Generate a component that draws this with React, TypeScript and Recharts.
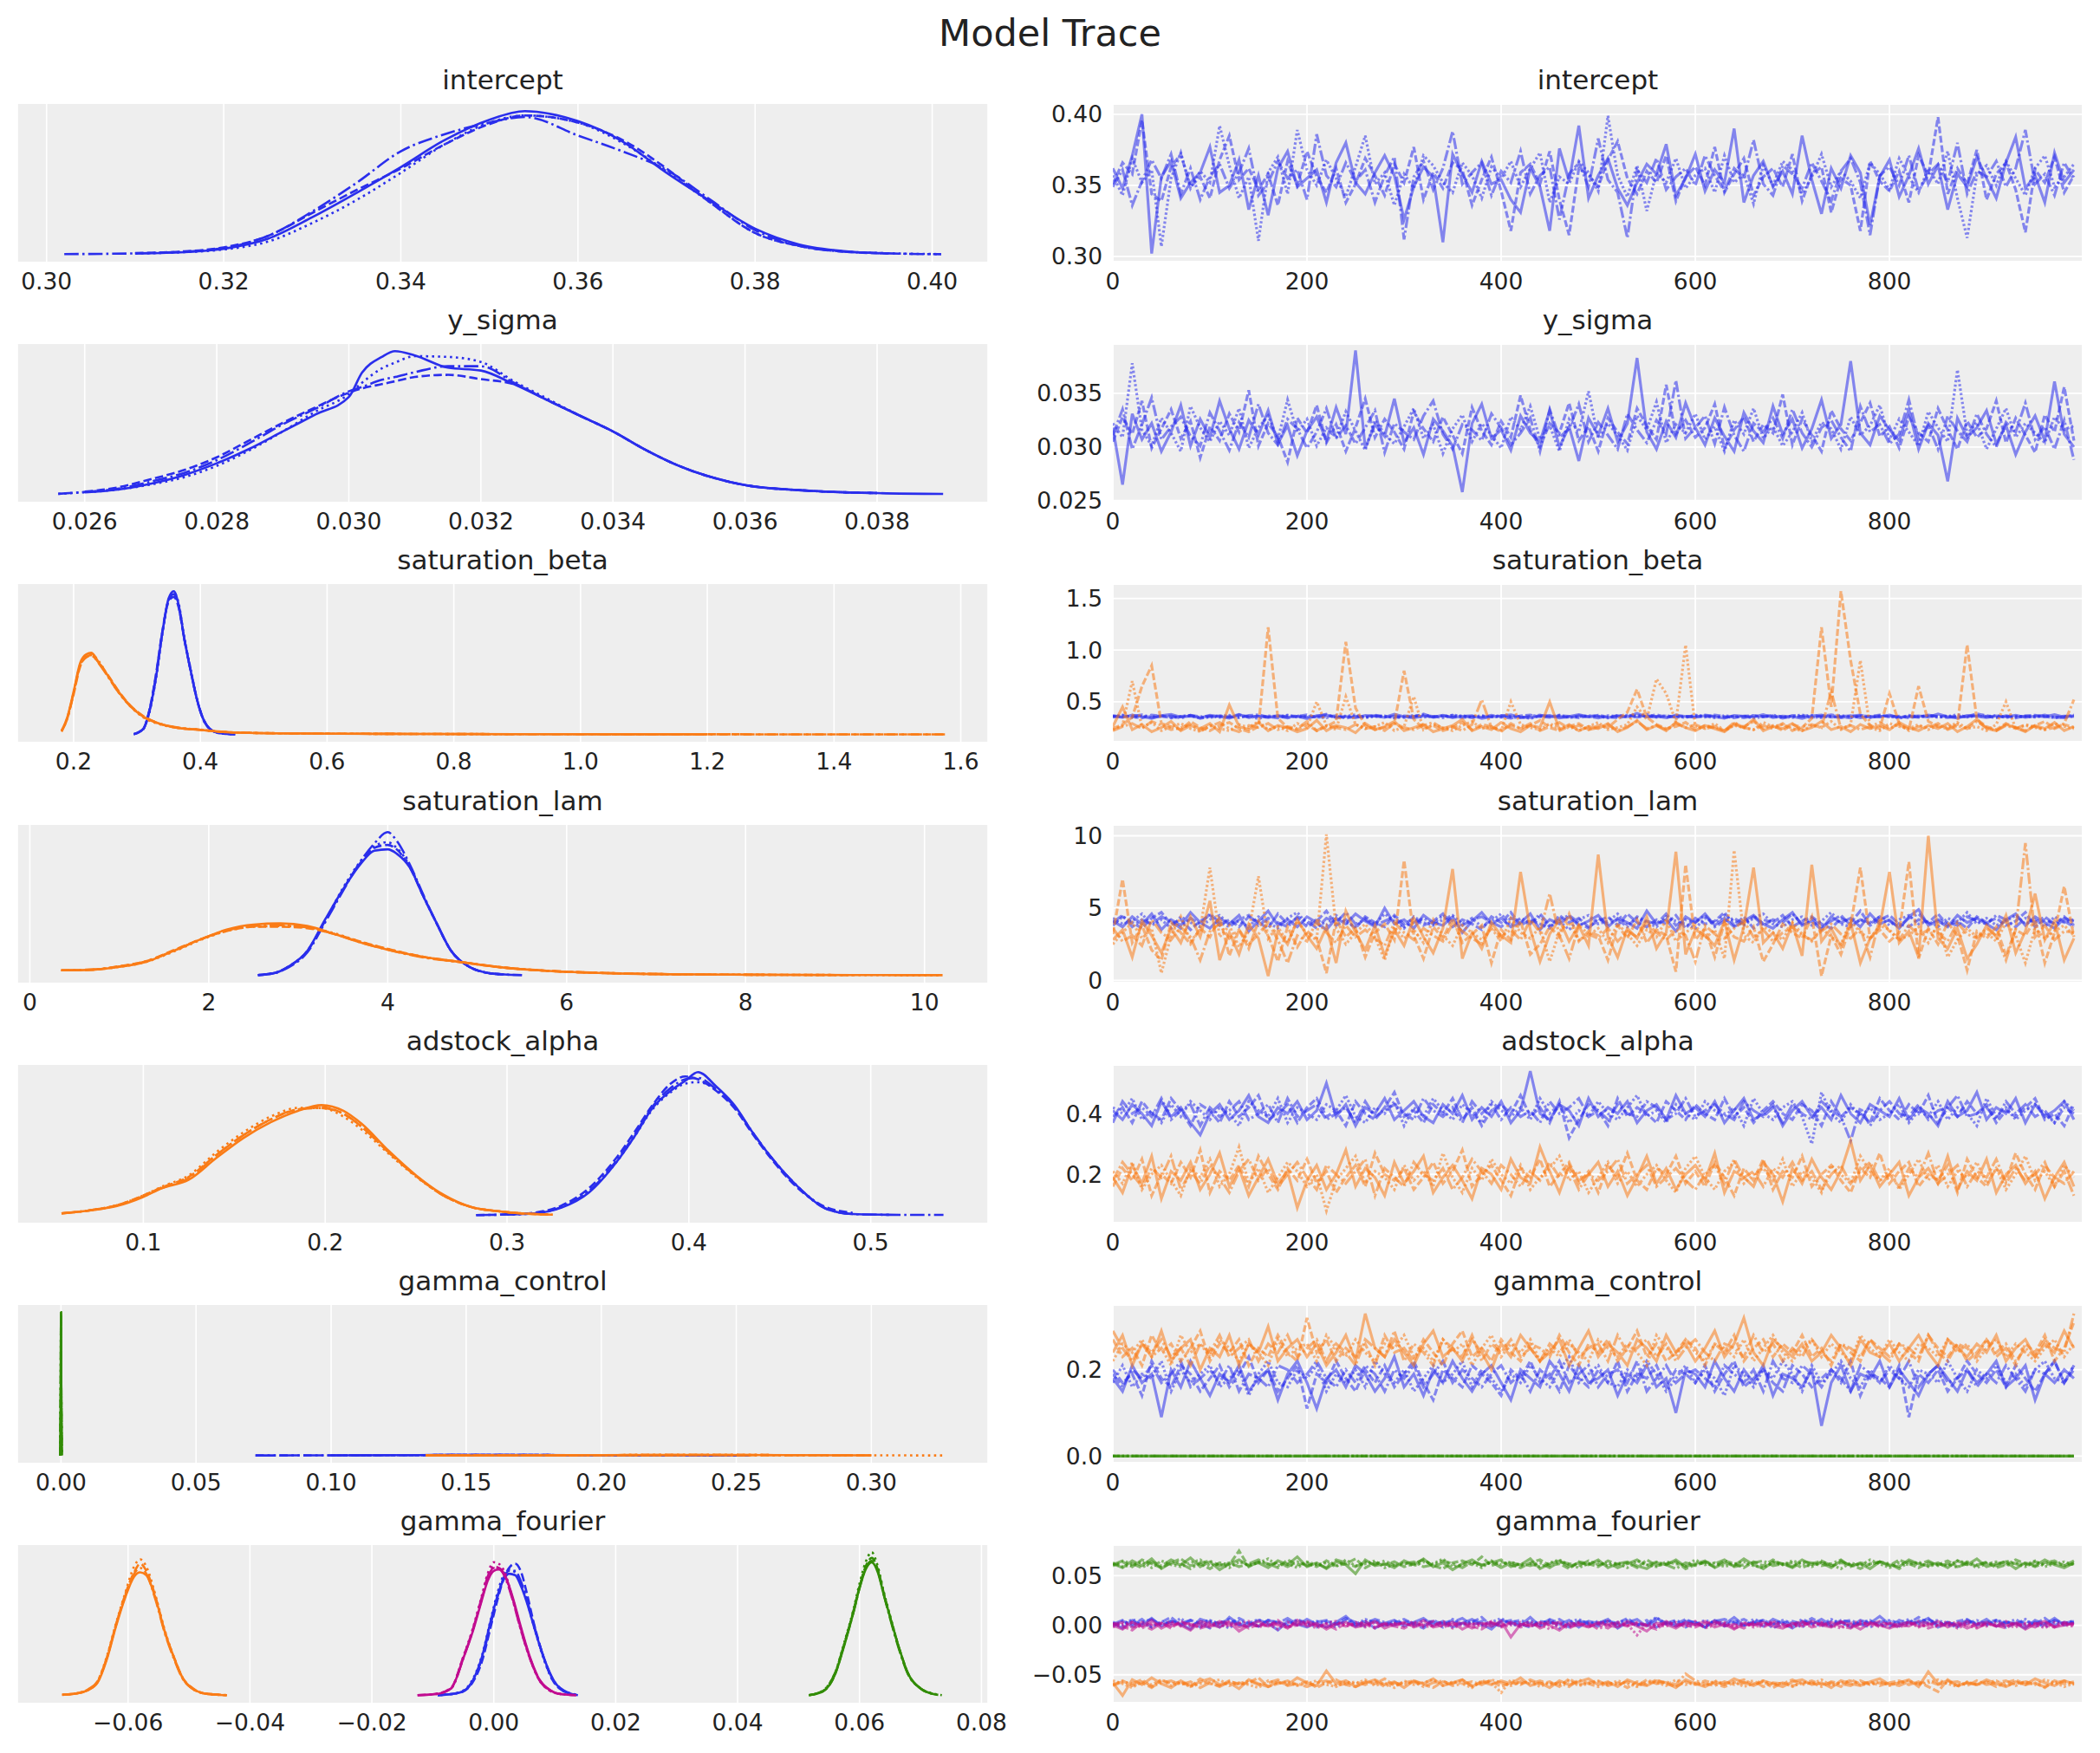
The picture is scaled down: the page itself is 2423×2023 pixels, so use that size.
import React from 'react';
import { LineChart, Line, XAxis, YAxis, CartesianGrid } from 'recharts';

const FONT = '"DejaVu Sans", "Liberation Sans", sans-serif';
const TEXT = '#222222';
const PANEL_BG = '#eeeeee';
const BLUE = '#2a2eec';
const ORANGE = '#fa7c17';
const GREEN = '#328c06';
const MAGENTA = '#c10c90';

const DRAW_STEP = 10; // every 10th draw of 1000
const TRACE_DRAWS = 100;

// ---------------- KDE (left column): x grid + relative density per chain (100 = panel max) -------------
const interceptKdeX = [0.302, 0.31, 0.315, 0.32, 0.325, 0.33, 0.335, 0.34, 0.345, 0.35, 0.354, 0.36, 0.365, 0.37, 0.375, 0.38, 0.385, 0.39, 0.395, 0.401];
const interceptKde = [
  [null, 0.8, 1.5, 4, 11, 26, 43, 61, 80, 94, 100, 93, 79, 57, 37, 18, 7, 2.4, 0.8, null],
  [null, 1.0, 2, 5, 13, 29, 45, 60, 77, 91, 97, 92, 80, 60, 36, 15, 6, 2, 0.8, null],
  [null, 0.8, 1.5, 3.5, 9, 22, 38, 57, 77, 92, 97, 92, 78, 58, 36, 15, 6, 2.2, 0.9, 0.3],
  [0.3, 0.8, 1.8, 4.5, 13, 30, 50, 72, 84, 92, 96, 83, 72, 59, 38, 17, 6, 2, 0.8, 0.2],
];
const ySigmaKdeX = [0.0256, 0.026, 0.0265, 0.027, 0.0275, 0.028, 0.0285, 0.029, 0.0295, 0.030, 0.0302, 0.0305, 0.0307, 0.031, 0.0315, 0.032, 0.0325, 0.033, 0.0335, 0.034, 0.0345, 0.035, 0.0355, 0.036, 0.037, 0.038, 0.039];
const ySigmaKde = [
  [null, 1.5, 3.5, 7.6, 13.5, 21.8, 32, 44, 56, 68, 85, 96, 100, 97, 88.5, 86.5, 77, 66, 55, 44, 31, 20, 12, 6.6, 2.6, 1, 0.4],
  [null, 2, 5, 10.7, 17, 26, 38, 50, 61, 71, 74, 77, 79, 82, 83.5, 80.5, 77, 66, 55, 44, 31, 20, 12, 6.6, 2.6, 1, null],
  [0.5, 1.6, 3.5, 7, 12, 20, 31, 44, 58, 70, 78, 88, 92, 96.5, 96, 92.5, 79, 67, 55, 44, 31, 20, 12, 6.6, 2.6, 1, null],
  [0.5, 1.8, 4, 9, 15, 24, 36, 49, 60, 72, 75, 80, 82, 85.4, 89.5, 89.5, 78, 66, 55, 44, 31, 20, 12, 6.6, 2.6, 1, null],
];
const satBetaBlueKdeX = [0.295, 0.31, 0.32, 0.33, 0.34, 0.35, 0.358, 0.365, 0.375, 0.385, 0.395, 0.405, 0.415, 0.43, 0.455];
const satBetaBlueKde = [
  [0.3, 4, 17, 40, 71, 95, 100, 92, 66, 44, 24, 10.5, 4, 1, 0.2],
  [0.3, 4, 18, 42, 72, 93, 96, 90, 66, 44, 24, 10.5, 4, 1, null],
  [null, 3.5, 16, 39, 70, 94, 99, 93, 67, 45, 24, 10.5, 4, 1, 0.2],
  [0.3, 4, 17, 41, 71, 94, 98, 91, 66, 44, 24, 10, 4, 1, 0.2],
];
const satBetaOrangeKdeX = [0.181, 0.19, 0.2, 0.21, 0.22, 0.228, 0.24, 0.255, 0.27, 0.29, 0.31, 0.33, 0.36, 0.4, 0.45, 0.55, 0.7, 0.9, 1.2, 1.575];
const satBetaOrangeKde = [
  [2.6, 12, 30, 49.5, 56, 57, 50, 40.5, 30.5, 19.5, 12.5, 8.5, 5, 3.3, 1.5, 0.8, 0.5, 0.3, 0.2, null],
  [null, 11, 28, 47, 54, 55, 50, 41, 31, 20, 13, 8.5, 5, 3.3, 1.5, 0.8, 0.5, 0.3, 0.2, 0.1],
  [2.6, 11.5, 29, 48, 55, 56, 51, 40, 30, 19.5, 12, 8, 5, 3.4, 1.6, 0.8, 0.5, 0.3, null, null],
  [2, 11, 29, 48, 54, 55.5, 49.5, 40, 30, 20, 12.5, 8.5, 5.2, 3.3, 1.5, 0.8, 0.5, 0.3, 0.2, 0.1],
];
const satLamBlueKdeX = [2.55, 2.75, 2.9, 3.1, 3.3, 3.5, 3.7, 3.85, 4.0, 4.1, 4.25, 4.4, 4.55, 4.7, 4.9, 5.1, 5.3, 5.5];
const satLamBlueKde = [
  [0.3, 2, 6.6, 17, 39, 60, 78, 87, 88, 85, 75, 55, 36, 18, 6.5, 2, 0.7, 0.3],
  [0.3, 2, 6.5, 17, 38, 60, 79, 89, 91, 88, 75, 55, 36, 18, 6.5, 2, 0.7, null],
  [0.3, 2, 6.5, 17, 38, 61, 80, 90, 93, 89, 76, 55, 36, 18, 6.5, 2, 0.7, null],
  [0.3, 2, 6, 16, 37, 59, 80, 92, 100, 94, 77, 56, 36, 18, 6.5, 2, 0.7, 0.3],
];
const satLamOrangeKdeX = [0.35, 0.7, 1.0, 1.3, 1.6, 1.9, 2.2, 2.5, 2.8, 3.1, 3.4, 3.7, 4.0, 4.4, 4.8, 5.3, 5.8, 6.5, 7.3, 8.2, 9.2, 10.2];
const satLamOrangeKde = [
  [3.6, 4, 6, 9.5, 17, 25, 32, 35.5, 36.3, 34.5, 29, 23, 18, 13, 9.5, 5.5, 3.2, 1.6, 0.8, 0.5, 0.3, 0.2],
  [3.6, 4, 6.5, 10, 17.5, 25, 31, 34, 34, 33, 29, 23.5, 18.5, 13, 9.5, 5.5, 3.2, 1.6, 0.8, 0.5, 0.3, null],
  [null, 4, 6, 9.5, 16.5, 24.5, 31, 34, 34.5, 33.5, 29.5, 23.5, 18.5, 13, 9.5, 5.5, 3.2, 1.6, 0.8, 0.5, 0.3, 0.2],
  [3.6, 4.2, 6.3, 10, 17, 25, 31.5, 34.5, 35, 33.5, 29, 23, 18, 12.5, 9.5, 5.5, 3.2, 1.6, 0.8, 0.5, null, null],
];
const adstockBlueKdeX = [0.283, 0.3, 0.315, 0.33, 0.345, 0.36, 0.37, 0.38, 0.39, 0.398, 0.405, 0.415, 0.425, 0.435, 0.445, 0.46, 0.475, 0.49, 0.51, 0.54];
const adstockBlueKde = [
  [null, 0.7, 1.5, 5.5, 16, 37, 55, 75, 87, 94, 100, 90, 77, 58, 41, 20, 5, 1, 0.5, null],
  [0.3, 0.8, 2, 7, 19, 40, 58, 77, 92, 97, 95, 87, 75, 57, 40, 19, 6, 2, null, null],
  [null, 0.7, 1.6, 6, 17, 37, 55, 74, 86, 92, 93, 88, 76, 58, 41, 20, 5.5, 1.2, null, null],
  [0.3, 0.7, 1.5, 6, 17, 38, 56, 76, 89, 95, 96, 88, 76, 58, 41, 20, 5, 1, 0.5, 0.4],
];
const adstockOrangeKdeX = [0.055, 0.07, 0.085, 0.1, 0.11, 0.125, 0.14, 0.155, 0.17, 0.185, 0.198, 0.21, 0.22, 0.235, 0.25, 0.265, 0.28, 0.295, 0.31, 0.325];
const adstockOrangeKde = [
  [1.5, 3.5, 6.5, 13, 19, 25, 40, 54, 65, 73, 77, 73, 64, 45, 28, 14.5, 6, 3, 1.3, 0.6],
  [1.5, 3.5, 7, 14, 19.5, 27, 42, 56, 67, 74, 75.5, 71, 62, 44, 27.5, 14, 6, 3, 1.3, 0.6],
  [null, 3.5, 7, 14, 20, 28, 44, 58, 69, 75, 75, 69, 60, 43, 27, 14, 6, 3, 1.3, null],
  [1.5, 3.5, 7, 13.5, 19, 26, 42, 56, 67, 74, 75, 71, 62, 44, 27.5, 14, 6, 3, 1.3, 0.6],
];
const gcBlueKdeX = [0.072, 0.1, 0.13, 0.16, 0.19, 0.22, 0.255];
const gcBlueKde = [
  [null, 0.15, 0.3, 0.4, 0.3, 0.15, 0.05],
  [0.05, 0.15, 0.3, 0.4, 0.3, 0.15, null],
  [null, 0.15, 0.3, 0.4, 0.3, 0.15, 0.05],
  [0.05, 0.15, 0.3, 0.4, 0.3, 0.15, 0.05],
];
const gcOrangeKdeX = [0.135, 0.17, 0.2, 0.24, 0.27, 0.3, 0.327];
const gcOrangeKde = [
  [0.05, 0.15, 0.3, 0.4, 0.3, 0.15, null],
  [0.05, 0.15, 0.3, 0.4, 0.3, 0.15, null],
  [0.05, 0.15, 0.3, 0.4, 0.3, 0.15, 0.05],
  [0.05, 0.15, 0.3, 0.4, 0.3, 0.15, null],
];
const gcGreenKdeX = [-0.0003, -0.0001, 0, 0.0001, 0.0003];
const gcGreenKde = [
  [0, 50, 100, 50, 0],
  [0, 52, 99, 52, 0],
  [0, 48, 98, 48, 0],
  [0, 50, 100, 50, 0],
];
const gfBlueKdeX = [-0.0092, -0.007, -0.005, -0.0035, -0.002, -0.0005, 0.0005, 0.0015, 0.0025, 0.0035, 0.0045, 0.0055, 0.0066, 0.008, 0.0095, 0.0115, 0.0138];
const gfBlueKde = [
  [0.3, 1, 3, 10, 26, 52, 68, 80, 85, 84, 76, 64, 48, 29, 13, 3, 0.3],
  [0.3, 1, 3, 9, 23, 48, 65, 80, 89, 92, 86, 70, 50, 29, 12, 3, 0.3],
  [null, 1, 3.5, 11, 27, 53, 70, 83, 88, 86, 78, 65, 48, 28, 12, 3, null],
  [0.3, 1, 3, 10, 25, 50, 67, 81, 87, 87, 79, 66, 49, 29, 13, 3.5, 0.5],
];
const gfOrangeKdeX = [-0.0708, -0.0685, -0.0665, -0.065, -0.0635, -0.062, -0.0605, -0.059, -0.058, -0.057, -0.0555, -0.054, -0.0525, -0.051, -0.0495, -0.048, -0.046, -0.0438];
const gfOrangeKde = [
  [0.6, 1.5, 4, 9, 25, 48, 68, 83, 86, 84, 68, 45, 27, 12, 5, 2, 0.8, 0.3],
  [0.5, 1.5, 4, 9.5, 26, 49, 70, 86, 92, 87, 69, 45, 27, 12, 5.5, 2, 0.8, 0.3],
  [null, 1.5, 4, 10, 27, 50, 71, 90, 95, 90, 70, 46, 27, 12, 5, 2, 0.8, null],
  [0.6, 1.5, 4.5, 10, 26, 49, 69, 85, 89, 85, 67, 44, 26, 11.5, 5, 2, 0.8, 0.3],
];
const gfGreenKdeX = [0.0517, 0.054, 0.056, 0.0575, 0.059, 0.06, 0.061, 0.062, 0.063, 0.064, 0.065, 0.0665, 0.068, 0.07, 0.072, 0.0735];
const gfGreenKde = [
  [0.3, 3, 15, 35, 58, 75, 88, 93, 86, 70, 55, 33, 15, 5, 1.2, null],
  [0.3, 3, 15, 36, 59, 76, 90, 96, 88, 71, 55, 33, 15, 5, 1.2, 0.3],
  [null, 3, 16, 37, 60, 78, 93, 100, 90, 72, 56, 33, 15, 5, 1.5, 0.3],
  [0.3, 3.5, 16, 36, 58, 75, 89, 94, 87, 70, 54, 32, 14.5, 5, 1.2, null],
];
const gfMagentaKdeX = [-0.0125, -0.0095, -0.007, -0.005, -0.0035, -0.002, -0.001, 0.0, 0.0008, 0.0018, 0.003, 0.0045, 0.006, 0.0075, 0.009, 0.011, 0.0135];
const gfMagentaKde = [
  [0.3, 1, 5, 26, 44, 66, 80, 87, 88, 84, 70, 47, 26, 11, 4.5, 1, 0.3],
  [0.3, 1.2, 5.5, 27, 45, 67, 82, 89, 89, 84, 69, 46, 25.5, 11, 4.5, 1, 0.3],
  [null, 1, 5, 27, 46, 69, 85, 93, 92, 86, 69, 45, 25, 10.5, 4, 1, null],
  [0.3, 1, 5, 26, 45, 68, 83, 90, 89, 83, 68, 45, 25, 10.5, 4, 1, null],
];

// ---------------- Traces (right column): 4 chains x 100 thinned draws, integer units ----------------
const interceptTrace = [ // x0.001
  [362,348,371,400,302,356,367,341,352,359, 377,345,350,368,333,357,329,362,374,349, 355,361,338,366,380,352,344,359,371,357, 326,349,363,356,310,372,358,345,367,351, 354,340,331,362,349,318,376,353,392,341, 357,369,348,336,352,365,358,379,343,355, 372,346,361,352,390,338,357,367,349,360, 344,385,354,330,362,348,371,359,322,356, 368,342,357,376,351,364,333,358,349,370, 355,341,366,384,348,357,338,373,352,361],
  [351,366,358,396,344,339,363,372,349,356, 341,368,385,354,362,347,358,336,367,350, 374,356,345,362,338,351,369,357,343,365, 352,377,340,359,348,366,361,336,354,370, 346,318,359,365,351,374,340,315,362,357, 349,368,381,355,344,360,352,371,339,356, 363,350,377,345,358,369,343,356,362,349, 372,339,358,363,331,355,350,318,367,353, 346,360,338,371,357,398,344,362,351,375, 340,358,366,347,317,361,352,370,345,357],
  [357,343,369,352,361,307,355,373,348,360, 352,392,364,341,356,311,359,370,344,389, 361,350,368,355,342,363,385,351,359,336, 358,348,371,364,352,345,366,357,341,363, 355,367,349,362,373,338,356,351,367,359, 346,399,357,342,364,332,359,352,369,348, 357,362,345,371,352,358,337,364,350,367, 361,344,356,372,349,360,353,341,366,358, 347,369,356,345,362,351,374,341,313,358, 364,350,367,355,343,362,371,349,356,365],
  [349,361,336,353,368,355,372,344,362,340, 356,365,348,359,376,343,352,367,355,361, 340,386,357,349,366,353,361,338,357,370, 312,356,367,347,362,388,351,359,366,343, 360,352,374,344,357,363,326,358,366,349, 383,354,345,313,361,352,369,347,356,362, 350,371,357,346,362,355,382,351,343,364, 358,348,366,353,339,360,369,352,315,357, 363,350,371,346,358,365,352,380,344,360, 356,367,349,362,389,351,358,343,366,354],
];
const ySigmaTrace = [ // x0.0001
  [318,265,331,307,322,296,314,339,301,326, 309,343,317,298,325,311,334,303,320,292, 315,328,306,337,312,390,299,321,310,345, 304,318,293,326,315,301,258,322,340,308, 316,297,329,313,305,334,300,319,287,327, 311,336,305,322,383,314,298,324,309,341, 318,302,327,310,296,332,315,304,338,312, 326,299,317,344,308,321,380,313,302,329, 316,306,335,298,322,311,268,327,309,318, 334,303,320,293,314,329,306,361,312,300],
  [305,328,312,343,299,317,335,308,324,290, 319,306,331,314,353,301,322,310,286,327, 313,339,304,321,296,318,345,309,326,314, 298,333,317,305,328,311,294,337,315,302, 324,309,348,316,300,322,313,341,306,319, 296,327,314,303,336,320,307,358,312,325, 309,318,340,299,316,328,305,321,313,349, 302,326,311,296,334,317,306,323,341,310, 319,299,328,313,305,336,316,298,324,309, 317,343,304,327,311,295,330,314,356,306],
  [322,309,378,316,301,327,313,296,338,318, 305,324,311,336,299,318,329,307,344,314, 326,301,318,309,333,315,297,325,312,303, 319,336,308,321,294,317,330,305,322,311, 299,328,316,338,307,320,296,326,314,352, 308,322,311,297,329,316,342,304,321,313, 331,307,319,296,325,312,336,308,319,301, 314,332,305,323,317,298,328,311,320,339, 307,326,314,301,333,318,305,372,312,323, 298,317,336,309,322,313,304,328,316,320],
  [311,335,298,321,346,307,319,328,310,301, 332,315,297,323,309,340,313,302,326,317, 299,314,336,308,320,303,318,334,295,322, 314,307,329,343,312,298,321,316,306,331, 318,302,313,327,296,335,309,317,340,305, 323,311,298,331,316,304,325,312,362,308, 318,329,303,337,311,296,322,314,327,308, 335,313,300,318,325,309,296,338,314,321, 303,312,344,307,320,298,329,315,305,331, 312,300,323,314,341,307,319,298,325,288],
];
const satBetaBlueTrace = [ // x0.001
  [362,348,371,356,339,366,378,352,361,344, 369,357,340,373,355,362,347,368,351,359, 336,365,372,350,358,344,367,361,349,380, 356,343,364,352,370,347,359,366,338,355, 363,374,351,346,360,368,342,357,375,353, 361,348,366,356,389,352,360,344,371,358, 349,365,355,341,368,359,352,376,347,362, 356,339,364,371,350,358,366,345,360,353, 372,348,357,364,351,382,355,343,367,359, 346,363,354,370,349,361,356,375,352,366],
  [351,366,355,343,372,360,348,357,369,338, 358,364,351,377,346,361,355,342,366,359, 373,349,357,365,340,362,354,371,358,347, 364,356,381,349,361,367,344,358,352,369, 355,341,363,372,356,349,367,360,345,359, 370,354,343,362,367,357,376,349,361,355, 364,350,372,358,345,361,367,354,359,340, 368,357,348,362,375,353,343,366,358,371, 352,361,345,358,369,355,363,349,357,384, 366,352,359,343,364,370,355,349,362,357],
  [358,372,346,361,354,367,342,359,365,351, 347,362,369,353,359,336,364,357,371,349, 360,352,345,366,361,374,350,356,363,342, 355,368,350,359,345,372,361,353,366,357, 349,360,356,338,365,357,371,348,354,366, 358,343,369,352,360,378,349,363,356,347, 371,358,345,366,354,362,340,357,365,351, 360,373,355,346,362,368,352,359,344,366, 357,339,370,355,362,348,358,376,351,363, 355,369,346,360,357,351,365,343,358,372],
  [366,353,360,374,348,357,363,341,370,356, 362,349,358,345,367,374,352,361,343,364, 351,358,379,347,355,360,343,366,352,361, 346,359,372,357,363,351,366,345,360,354, 368,352,344,361,371,355,359,347,365,357, 343,366,358,371,350,361,355,367,348,359, 355,371,360,349,359,344,364,356,372,353, 347,362,369,354,358,345,361,372,350,357, 364,353,360,348,371,357,346,362,355,368, 359,344,366,353,361,357,372,350,345,358],
];
const satBetaOrangeTrace = [ // x0.01
  [26,45,23,28,21,25,31,22,27,24, 29,21,47,26,23,30,22,27,25,21, 24,32,22,27,25,20,29,23,26,31, 22,25,28,21,24,27,33,22,26,23, 30,24,21,27,25,50,23,28,22,26, 24,29,21,25,32,23,27,22,30,25, 22,27,24,21,28,25,33,22,26,24, 29,22,25,31,23,26,21,28,24,27, 23,30,25,22,27,24,29,21,26,33, 24,22,28,25,21,27,24,30,22,26],
  [24,28,35,65,85,29,26,23,31,25, 22,27,30,24,21,26,122,34,25,23, 28,22,26,31,108,44,27,23,25,29, 80,33,24,27,22,25,30,23,28,26, 21,29,24,27,32,25,22,26,29,23, 27,25,33,40,62,35,28,24,26,30, 23,27,25,22,29,26,31,24,27,22, 28,25,34,122,45,157,90,38,27,24, 58,29,23,65,31,26,24,28,105,33, 26,23,29,25,22,27,31,24,28,25],
  [23,27,70,25,30,22,26,29,24,21, 27,24,22,28,25,31,23,26,22,29, 25,50,27,23,55,28,24,26,30,22, 26,55,23,28,25,22,27,31,24,26, 22,50,28,25,23,29,24,27,22,26, 30,23,25,28,45,33,72,58,30,105, 26,24,29,22,27,25,23,30,26,28, 24,22,27,25,31,23,28,90,25,22, 29,26,24,28,23,27,25,30,24,26, 22,28,50,24,27,25,23,29,26,24],
  [22,26,29,24,31,27,23,25,28,22, 26,30,24,21,27,25,29,23,26,24, 31,22,27,25,23,28,24,26,22,29, 25,23,27,30,24,26,22,28,52,25, 23,27,24,29,22,26,30,24,27,23, 25,28,22,26,31,24,27,23,29,25, 28,24,26,22,30,25,23,27,24,29, 22,26,28,25,60,24,27,23,26,30, 24,28,22,26,25,29,23,27,24,31, 25,22,27,24,28,26,23,25,29,52],
];
const satLamBlueTrace = [ // x0.1
  [41,37,44,39,46,35,42,38,47,40, 36,43,39,45,34,41,48,38,42,37, 44,40,35,43,39,46,41,37,50,39, 42,36,45,40,38,44,33,41,47,39, 43,37,40,46,35,42,39,44,38,41, 45,37,43,40,36,48,39,42,34,44, 40,46,38,43,37,41,45,39,36,42, 47,38,41,35,44,40,43,37,46,39, 42,36,44,49,38,41,37,45,40,43, 39,35,42,46,38,44,40,36,43,41],
  [38,44,40,36,43,47,39,42,35,41, 45,38,42,37,44,40,36,46,39,43, 37,41,48,38,42,36,44,40,37,45, 39,43,38,41,46,37,42,39,35,44, 40,47,38,42,39,36,45,40,43,37, 41,44,38,46,40,37,42,39,45,36, 43,39,41,47,38,44,36,42,40,45, 37,41,44,39,36,43,40,48,38,42, 45,39,37,42,40,46,38,41,36,44, 40,43,38,41,47,37,42,39,44,38],
  [43,39,41,46,38,42,36,44,40,37, 42,45,39,41,37,44,40,36,43,47, 39,42,38,45,40,37,43,39,46,41, 36,44,40,38,42,45,39,43,37,41, 46,38,43,40,44,37,41,35,42,45, 39,41,46,38,43,40,37,44,41,39, 36,43,40,45,41,38,43,46,39,37, 42,44,38,41,47,39,37,42,40,44, 38,42,45,39,41,37,43,40,47,39, 43,38,41,45,39,42,37,44,40,42],
  [40,45,37,42,39,44,41,36,43,39, 46,40,37,42,45,38,43,40,37,44, 41,36,43,40,47,39,42,38,41,44, 37,40,43,39,45,41,38,42,44,40, 37,43,41,39,46,38,42,45,40,36, 43,39,42,37,44,41,39,46,38,42, 40,45,37,41,43,39,44,38,42,40, 46,39,43,37,41,45,38,42,39,44, 41,37,43,46,39,42,40,38,44,41, 39,45,42,37,43,40,44,39,41,37],
];
const satLamOrangeTrace = [ // x0.1
  [28,35,16,41,31,19,36,26,44,30, 55,14,33,18,39,29,3,34,25,42, 31,22,37,12,48,33,21,38,17,35, 24,43,30,19,36,77,15,33,22,40, 31,26,75,35,13,32,42,27,38,24, 87,30,16,36,29,44,22,33,89,18, 35,31,24,41,14,37,78,26,33,22, 39,17,80,27,36,23,40,12,29,37, 75,26,34,16,100,29,22,36,15,25, 38,30,45,19,34,60,28,41,14,29],
  [32,70,26,38,21,14,40,33,25,36, 30,44,17,35,22,41,31,13,37,23, 34,29,5,42,30,36,16,33,39,28, 83,31,15,37,29,43,26,32,38,12, 35,28,41,18,25,37,30,46,27,34, 31,14,38,29,42,26,35,31,6,80, 28,36,16,40,30,27,37,13,25,39, 33,29,44,3,31,18,38,78,29,35, 27,33,82,15,36,25,40,31,7,34, 29,37,17,35,31,42,12,33,65,30],
  [25,33,40,29,36,5,31,44,27,35, 78,30,38,23,34,72,29,37,26,41, 32,28,101,36,25,33,39,30,14,37, 29,35,26,42,31,24,38,33,28,36, 27,43,33,29,37,13,34,40,28,31, 36,26,39,32,24,35,30,42,27,33, 38,29,35,15,90,31,26,37,33,28, 40,32,27,36,30,25,41,33,29,38, 35,28,31,37,26,39,16,28,36,30, 33,27,40,31,12,36,29,34,38,31],
  [36,27,31,24,42,33,28,37,30,14, 34,39,29,35,25,32,40,28,12,31, 27,41,33,26,38,30,35,29,24,40, 33,28,36,31,27,39,34,29,25,37, 30,35,28,42,33,60,31,15,38,32, 29,36,27,34,30,40,33,28,35,31, 13,38,32,29,36,41,30,35,27,33, 37,31,28,34,39,32,29,36,16,43, 34,28,38,31,35,33,27,40,32,29, 36,31,14,35,95,30,38,28,34,33],
];
const adstockBlueTrace = [ // x0.01
  [41,38,43,40,36,44,39,42,37,33, 40,43,38,41,46,39,37,42,40,44, 38,41,50,39,43,36,42,40,45,38, 41,44,39,37,43,40,46,38,42,39, 44,37,41,54,40,38,43,41,36,45, 39,42,40,44,37,41,43,38,46,40, 42,39,44,37,41,45,38,40,43,36, 41,44,39,42,38,46,40,37,43,41, 39,45,38,42,40,36,44,39,41,47, 38,42,40,45,37,43,39,41,44,38],
  [39,42,37,44,40,38,45,41,36,43, 41,37,44,39,42,46,38,40,43,37, 42,45,39,41,36,44,40,38,42,47, 39,41,37,43,40,45,38,42,36,41, 43,40,46,39,42,37,44,32,38,43, 41,36,45,39,42,40,37,44,41,38, 43,40,38,45,39,42,37,41,44,40, 38,43,41,36,44,39,42,40,37,45, 41,38,43,40,46,37,42,39,44,40, 43,37,41,39,42,45,38,40,36,43],
  [42,40,45,38,41,37,43,39,44,41, 38,42,40,36,44,41,39,45,37,42, 40,38,43,41,46,39,37,42,40,44, 36,42,39,45,41,38,43,40,37,44, 41,39,42,38,45,40,43,37,41,39, 44,40,38,42,46,39,41,37,43,40, 38,44,41,39,42,36,45,40,38,42, 44,39,30,47,40,37,43,39,42,38, 40,43,37,41,39,44,38,42,40,36, 45,39,42,38,41,43,40,37,44,41],
  [37,44,40,42,39,45,38,41,43,36, 42,39,41,44,38,40,43,37,45,39, 41,43,38,40,42,37,44,39,41,43, 40,38,45,41,39,42,37,44,40,43, 38,42,39,41,37,44,40,42,45,39, 41,38,43,40,39,44,42,38,40,45, 39,41,43,40,38,44,41,39,42,37, 43,40,38,44,41,39,31,42,36,41, 44,40,39,43,38,41,42,46,39,40, 42,38,44,40,43,39,41,37,42,40],
];
const adstockOrangeTrace = [ // x0.01
  [19,14,23,17,26,12,21,18,24,15, 20,27,16,22,13,19,25,17,21,9, 18,23,15,20,28,16,22,19,13,24, 17,21,26,14,19,23,18,12,22,20, 15,25,19,17,29,21,14,23,18,20, 24,16,21,13,19,26,17,22,15,20, 23,18,27,14,21,19,16,24,20,11, 22,17,25,19,15,21,31,18,23,16, 20,24,13,19,22,17,26,15,21,18, 25,14,20,23,17,21,12,19,24,16],
  [16,22,18,25,13,20,17,24,19,28, 14,21,18,23,16,26,20,15,22,18, 25,17,21,14,19,23,16,27,20,18, 22,15,19,24,17,21,28,16,20,23, 18,13,22,19,25,16,20,24,17,21, 14,23,19,27,18,15,22,20,26,17, 21,16,24,19,13,22,18,25,15,21, 19,26,16,20,23,18,14,22,19,27, 17,21,24,16,20,18,23,14,25,19, 16,22,18,27,20,15,23,19,17,21],
  [21,17,24,15,20,23,18,13,22,19, 25,16,20,29,17,22,14,19,24,21, 16,20,8,18,22,26,17,21,19,15, 23,18,21,16,27,19,14,22,18,25, 20,17,23,15,19,22,26,18,21,14, 19,24,17,21,16,20,23,18,14,22, 26,19,15,21,24,17,20,22,18,25, 16,21,19,14,23,20,17,26,21,18, 22,15,20,25,18,23,16,21,19,24, 17,22,15,20,26,18,21,16,23,19],
  [18,24,20,16,22,19,26,15,21,17, 23,19,14,21,25,18,22,16,20,24, 19,15,23,20,17,21,25,13,22,19, 16,24,20,18,22,15,19,25,21,17, 23,20,16,21,18,24,19,22,15,20, 18,21,25,17,20,23,16,19,22,18, 15,20,23,17,25,19,21,16,22,19, 24,18,21,15,20,23,17,21,24,18, 20,16,22,19,27,17,20,23,16,21, 19,25,17,22,18,20,24,16,21,13],
];
const gcBlueTrace = [ // x0.01
  [18,15,21,17,19,9,20,16,22,18, 14,19,17,21,15,18,20,13,19,22, 17,11,18,20,16,21,19,15,18,23, 16,19,14,20,17,22,18,15,19,21, 17,13,20,18,16,22,19,15,21,17, 18,20,14,19,17,21,16,18,10,20, 19,16,22,18,15,20,17,21,14,19, 18,16,20,7,17,21,15,19,18,22, 16,20,17,14,19,21,18,15,20,17, 19,22,16,18,21,13,19,17,20,18],
  [20,17,19,14,22,18,16,21,19,15, 18,21,16,19,23,17,20,15,18,21, 11,19,17,22,18,15,20,17,21,16, 19,22,17,13,20,18,16,21,19,17, 14,20,18,22,17,19,15,21,18,16, 20,17,22,15,19,18,21,16,20,19, 17,21,15,19,22,16,18,20,17,15, 21,19,16,18,20,17,22,14,19,18, 16,21,9,19,17,20,15,18,22,19, 17,20,16,21,18,15,19,22,17,20],
  [17,21,16,19,18,22,15,20,17,19, 21,16,18,20,14,19,22,17,16,20, 18,21,15,19,17,20,16,22,19,17, 20,15,18,21,17,19,22,16,20,18, 15,19,17,21,18,16,20,23,17,19, 21,17,16,20,18,22,19,15,18,21, 17,20,18,14,21,19,16,20,18,22, 19,15,21,17,19,22,18,16,20,17, 21,18,16,20,19,17,22,18,15,20, 18,21,17,19,16,20,22,18,17,21],
  [19,16,20,18,21,17,19,22,16,18, 20,17,21,15,19,18,16,21,20,17, 19,22,18,16,20,17,21,19,15,20, 18,21,16,19,22,17,20,18,16,19, 21,17,19,15,20,18,22,17,19,21, 16,19,20,17,22,15,18,21,17,19, 20,18,16,21,19,17,20,15,22,18, 17,21,19,16,20,18,15,21,19,17, 20,18,22,16,19,21,17,18,20,16, 19,17,21,18,15,20,19,22,17,21],
];
const gcOrangeTrace = [ // x0.01
  [24,28,21,26,23,29,22,25,27,20, 25,23,28,21,26,24,30,22,25,27, 23,26,21,24,28,22,33,25,23,27, 24,21,26,29,23,25,22,27,24,20, 26,23,28,25,22,24,27,21,25,29, 23,26,24,21,27,25,22,28,24,26, 22,25,29,23,26,32,24,21,27,25, 23,26,22,24,28,25,21,27,24,23, 26,22,25,28,24,21,27,25,23,26, 24,28,22,25,27,23,26,24,29,25],
  [27,23,25,21,28,24,26,22,25,29, 22,26,24,27,21,25,23,28,24,22, 32,24,27,22,25,23,26,21,28,24, 25,22,27,24,21,26,29,23,25,22, 27,24,22,26,25,23,28,24,21,26, 24,27,22,25,29,23,26,22,24,27, 25,21,26,24,28,22,25,27,23,26, 24,28,23,25,21,26,24,22,27,25, 23,26,24,22,28,25,23,26,22,24, 27,23,25,21,26,24,28,22,25,31],
  [22,26,24,27,23,25,21,28,24,26, 23,27,25,22,26,24,21,27,23,25, 26,22,28,25,23,27,24,22,26,25, 28,23,25,22,27,24,26,21,25,28, 23,26,24,27,22,25,23,26,24,22, 27,25,23,26,24,21,28,25,23,27, 24,22,26,25,23,27,22,25,28,24, 22,25,27,23,26,24,22,28,25,23, 27,24,22,26,25,23,27,24,26,22, 25,27,23,26,24,22,25,27,23,26],
  [29,25,22,26,24,27,23,25,21,26, 24,28,23,25,27,22,26,24,28,23, 25,27,22,26,24,21,27,25,23,29, 22,26,24,21,27,25,23,28,22,26, 24,27,23,25,22,26,24,27,23,25, 26,22,28,24,25,27,23,26,22,25, 27,24,22,26,25,23,28,24,26,22, 25,23,27,24,22,26,25,23,27,24, 22,26,25,23,28,24,22,26,25,23, 27,24,26,22,25,23,27,25,24,33],
];
const gcGreenChain = [0,0,0,0,0,0,0,0,0,0, 0,0,0,0,0,0,0,0,0,0, 0,0,0,0,0,0,0,0,0,0, 0,0,0,0,0,0,0,0,0,0, 0,0,0,0,0,0,0,0,0,0, 0,0,0,0,0,0,0,0,0,0, 0,0,0,0,0,0,0,0,0,0, 0,0,0,0,0,0,0,0,0,0, 0,0,0,0,0,0,0,0,0,0, 0,0,0,0,0,0,0,0,0,0];
const gcGreenTrace = [gcGreenChain, gcGreenChain, gcGreenChain, gcGreenChain];
const gfBlueTrace = [ // x0.001
  [2,-3,5,0,7,-1,4,1,-4,6, 3,-2,8,1,-1,5,2,-5,4,0, 6,1,-2,3,9,0,4,-3,2,5, -1,3,7,0,4,-2,2,6,1,-4, 5,2,0,8,-1,3,1,5,-2,4, 2,6,-3,3,1,0,7,2,-1,4, 3,-2,5,1,8,0,3,-1,6,2, -3,4,1,6,0,3,-2,5,2,9, 1,-1,4,2,7,-2,3,0,5,1, 6,-1,3,2,-3,5,1,7,0,3],
  [-1,4,1,6,-2,3,8,0,5,2, -3,4,1,7,2,-1,5,3,0,6, 2,-2,4,1,7,3,-1,5,0,2, 6,1,-3,4,2,5,0,3,8,-1, 3,5,1,-2,4,2,6,0,3,1, -1,4,2,7,0,5,-2,3,1,6, 2,0,4,-1,3,6,1,5,-3,2, 4,1,7,2,-1,5,3,0,4,1, -2,5,2,8,1,3,-1,4,6,0, 3,5,-2,2,4,1,7,0,3,2],
  [3,0,6,2,-2,4,1,7,-1,3, 5,1,-3,4,2,6,0,3,-1,5, 1,4,2,-2,5,1,6,3,-1,4, 2,0,5,3,-2,6,1,4,0,3, 7,1,-1,4,2,5,-3,3,6,1, 4,0,3,5,-1,2,8,1,4,-2, 1,5,2,0,4,-1,6,3,1,5, 2,-2,4,1,6,2,0,3,5,-1, 4,2,6,0,3,5,1,-2,4,2, 0,5,3,1,6,-1,2,4,1,5],
  [1,5,-1,3,6,0,4,2,5,-2, 4,2,6,0,3,-1,5,2,7,1, -2,3,5,1,4,-1,2,6,3,0, 4,2,-1,5,1,3,7,0,4,2, -1,3,5,2,0,6,2,-2,4,3, 1,5,0,3,6,-1,4,2,5,1, 3,-2,4,6,2,0,3,5,1,4, 0,6,2,-1,4,3,5,1,-2,3, 5,2,0,4,6,1,3,-1,2,5, 1,4,2,6,0,3,-2,5,2,4],
];
const gfOrangeTrace = [ // x0.001
  [-58,-71,-55,-60,-53,-59,-63,-56,-61,-57, -54,-60,-58,-64,-55,-59,-62,-57,-60,-53, -58,-61,-46,-59,-56,-62,-58,-55,-60,-57, -63,-56,-59,-54,-61,-58,-55,-62,-57,-60, -56,-59,-53,-61,-58,-63,-56,-60,-57,-54, -60,-57,-62,-55,-59,-61,-56,-58,-63,-55, -59,-62,-57,-60,-54,-58,-61,-56,-59,-62, -57,-55,-60,-58,-63,-56,-59,-61,-57,-54, -60,-58,-55,-62,-47,-59,-56,-61,-58,-60, -55,-59,-62,-57,-60,-54,-58,-61,-56,-59],
  [-60,-56,-61,-58,-63,-55,-59,-57,-62,-54, -59,-61,-56,-60,-58,-53,-62,-59,-56,-60, -57,-63,-58,-55,-60,-62,-57,-59,-54,-61, -58,-56,-60,-63,-57,-59,-55,-61,-58,-56, -62,-58,-60,-55,-59,-57,-62,-54,-60,-58, -56,-61,-58,-63,-57,-60,-55,-59,-62,-57, -60,-56,-59,-62,-58,-55,-60,-57,-63,-58, -61,-59,-56,-60,-58,-62,-55,-59,-57,-61, -58,-56,-60,-57,-62,-67,-55,-61,-58,-60, -57,-62,-58,-55,-60,-58,-63,-56,-59,-57],
  [-56,-59,-63,-57,-60,-55,-61,-58,-62,-59, -57,-55,-61,-58,-60,-63,-56,-59,-57,-61, -59,-56,-60,-62,-57,-59,-55,-61,-58,-63, -56,-60,-58,-55,-61,-57,-59,-63,-56,-58, -68,-55,-59,-57,-62,-58,-60,-56,-61,-59, -57,-60,-56,-59,-62,-57,-58,-61,-55,-60, -58,-61,-56,-59,-57,-62,-59,-56,-60,-58, -62,-57,-59,-55,-61,-58,-56,-60,-59,-57, -61,-58,-56,-60,-58,-55,-59,-62,-57,-60, -58,-56,-61,-59,-57,-60,-55,-58,-62,-59],
  [-61,-57,-59,-55,-62,-58,-56,-60,-57,-63, -58,-62,-57,-59,-56,-60,-58,-55,-61,-59, -62,-58,-56,-61,-59,-57,-60,-56,-62,-58, -60,-57,-62,-58,-56,-61,-59,-57,-60,-55, -58,-61,-57,-59,-56,-60,-58,-62,-55,-59, -62,-58,-60,-57,-61,-55,-59,-57,-60,-49, -56,-59,-61,-57,-60,-58,-56,-62,-58,-59, -55,-60,-58,-62,-57,-59,-61,-56,-60,-58, -59,-61,-57,-59,-56,-60,-58,-57,-61,-56, -60,-58,-56,-61,-57,-59,-62,-58,-56,-60],
];
const gfGreenTrace = [ // x0.001
  [62,58,65,60,67,57,63,61,68,59, 64,56,62,66,60,63,58,65,61,69, 59,63,57,64,61,52,66,60,62,58, 65,61,67,59,63,56,62,66,60,64, 58,63,61,67,57,62,65,59,63,61, 66,58,62,64,60,57,63,61,66,59, 62,65,58,63,60,67,61,57,64,62, 59,66,61,63,58,65,60,62,57,64, 61,59,66,62,60,63,58,65,61,67, 59,62,64,57,63,60,66,61,58,63],
  [60,64,59,66,62,58,63,67,60,62, 57,63,61,75,59,64,62,58,66,61, 63,59,65,60,62,67,58,63,61,64, 59,62,66,60,57,63,65,61,69,60, 64,61,58,63,66,60,62,57,64,62, 59,65,61,63,58,66,60,62,64,57, 61,63,59,65,62,58,64,60,66,61, 63,58,62,65,60,63,61,57,62,64, 60,66,62,58,63,61,65,59,62,60, 64,58,61,66,62,59,63,65,60,62],
  [63,59,61,64,58,65,61,59,63,66, 60,62,58,64,61,63,67,60,62,58, 64,61,63,59,66,60,62,65,58,61, 63,60,64,62,67,59,61,63,58,65, 61,64,60,62,59,63,66,61,58,62, 64,60,63,58,65,61,59,64,62,60, 66,61,63,59,62,64,60,58,63,61, 65,62,59,64,61,57,63,60,66,62, 58,63,61,64,59,62,60,65,63,58, 62,64,60,63,61,65,59,62,64,61],
  [61,65,62,58,64,60,66,62,57,63, 65,60,63,59,62,66,61,63,59,64, 60,62,58,66,63,59,64,61,65,60, 62,64,59,61,65,62,58,64,61,63, 66,59,62,60,63,58,64,62,60,65, 61,63,58,62,66,60,64,61,57,63, 60,64,62,66,59,61,63,65,60,62, 58,64,63,60,62,66,59,63,61,64, 62,57,64,61,65,60,62,58,64,61, 63,60,65,62,59,64,61,63,60,65],
];
const gfMagentaTrace = [ // x0.001
  [0,-4,3,-1,5,-3,2,0,-5,4, 1,-2,3,-6,0,4,-1,2,-3,5, -1,2,-4,1,3,-2,0,4,-3,1, 2,-1,5,-2,0,3,-4,1,2,-1, 4,-12,1,-1,3,0,-5,2,1,-2, 3,0,-2,4,-1,-6,2,1,-3,3, 0,4,-2,1,-4,2,0,3,-1,-3, 2,-1,4,0,-2,3,1,-4,2,0, -3,1,3,-1,0,4,-2,2,-3,1, 3,-1,0,2,-4,1,4,-2,0,2],
  [2,-1,-5,3,0,2,-3,4,-1,1, -2,4,0,2,-3,1,-1,5,-2,0, 3,-1,1,-4,2,0,4,-2,1,-1, -3,2,0,4,-2,1,3,-1,-4,2, 0,3,-2,1,-1,4,0,-3,2,-1, 1,-3,3,0,2,-1,-4,3,1,0, -2,2,4,-1,1,-3,3,0,2,-2, 1,4,-2,0,3,-1,-3,2,1,4, 0,-2,1,3,-3,0,2,-1,4,-2, 1,0,-3,3,-1,2,0,-2,3,1],
  [-2,1,3,-3,2,0,4,-1,2,-2, 3,0,-1,2,4,-2,1,-4,3,0, 1,-3,2,4,-1,1,-2,3,0,2, -1,4,-2,0,3,-3,1,2,-1,4, -2,0,3,-1,2,-4,1,0,3,-2, 2,4,-1,1,-10,2,0,-1,3,-2, 4,-3,0,2,-1,3,-2,1,4,0, -2,1,-1,3,0,-3,2,4,-1,1, 2,-1,3,-2,1,0,4,-3,1,2, -1,3,0,-2,2,1,-3,3,0,-1],
  [1,3,-2,0,-4,2,-1,3,1,-3, 0,2,4,-2,1,-1,3,0,-2,2, 4,0,-2,2,-1,3,1,-3,2,0, 3,-2,1,-1,4,0,2,-3,1,3, -1,2,0,4,-3,1,3,-1,0,2, -4,1,2,-1,3,0,-2,4,-1,2, 1,-1,2,3,-3,0,1,-2,3,1, -1,3,0,2,-1,4,-2,1,3,-2, 2,0,-1,4,2,-2,1,3,0,-3, 2,-1,4,0,1,-2,3,-1,2,0],
];

// ---------------- tick values ----------------
const interceptKdeTicks = [0.30, 0.32, 0.34, 0.36, 0.38, 0.40];
const ySigmaKdeTicks = [0.026, 0.028, 0.030, 0.032, 0.034, 0.036, 0.038];
const satBetaKdeTicks = [0.2, 0.4, 0.6, 0.8, 1.0, 1.2, 1.4, 1.6];
const satLamKdeTicks = [0, 2, 4, 6, 8, 10];
const adstockKdeTicks = [0.1, 0.2, 0.3, 0.4, 0.5];
const gcKdeTicks = [0, 0.05, 0.10, 0.15, 0.20, 0.25, 0.30];
const gfKdeTicks = [-0.06, -0.04, -0.02, 0, 0.02, 0.04, 0.06, 0.08];
const interceptTraceTicks = [0.30, 0.35, 0.40];
const ySigmaTraceTicks = [0.025, 0.030, 0.035];
const satBetaTraceTicks = [0.5, 1.0, 1.5];
const satLamTraceTicks = [0, 5, 10];
const adstockTraceTicks = [0.2, 0.4];
const gcTraceTicks = [0.0, 0.2];
const gfTraceTicks = [-0.05, 0, 0.05];
const drawTicks = [0, 200, 400, 600, 800];

const fmt = (d: number) => (v: number) => (v < 0 ? '\u2212' : '') + Math.abs(v).toFixed(d);

type Series = { color: string; kdeX: number[]; kde: (number | null)[][]; trace: number[][]; unit: number };
type Panel = {
  title: string; series: Series[];
  kdeDomain: [number, number]; kdeTicks: number[]; kdeFmt: (v: number) => string;
  trDomain: [number, number]; trTicks: number[]; trFmt: (v: number) => string;
};

const panels: Panel[] = [
  { title: 'intercept', series: [{ color: BLUE, kdeX: interceptKdeX, kde: interceptKde, trace: interceptTrace, unit: 0.001 }],
    kdeDomain: [0.2967, 0.4063], kdeTicks: interceptKdeTicks, kdeFmt: fmt(2), trDomain: [0.2963, 0.4073], trTicks: interceptTraceTicks, trFmt: fmt(2) },
  { title: 'y_sigma', series: [{ color: BLUE, kdeX: ySigmaKdeX, kde: ySigmaKde, trace: ySigmaTrace, unit: 0.0001 }],
    kdeDomain: [0.02498, 0.03968], kdeTicks: ySigmaKdeTicks, kdeFmt: fmt(3), trDomain: [0.0249, 0.0396], trTicks: ySigmaTraceTicks, trFmt: fmt(3) },
  { title: 'saturation_beta', series: [
      { color: BLUE, kdeX: satBetaBlueKdeX, kde: satBetaBlueKde, trace: satBetaBlueTrace, unit: 0.001 },
      { color: ORANGE, kdeX: satBetaOrangeKdeX, kde: satBetaOrangeKde, trace: satBetaOrangeTrace, unit: 0.01 }],
    kdeDomain: [0.1112, 1.643], kdeTicks: satBetaKdeTicks, kdeFmt: fmt(1), trDomain: [0.113, 1.639], trTicks: satBetaTraceTicks, trFmt: fmt(1) },
  { title: 'saturation_lam', series: [
      { color: BLUE, kdeX: satLamBlueKdeX, kde: satLamBlueKde, trace: satLamBlueTrace, unit: 0.1 },
      { color: ORANGE, kdeX: satLamOrangeKdeX, kde: satLamOrangeKde, trace: satLamOrangeTrace, unit: 0.1 }],
    kdeDomain: [-0.14, 10.71], kdeTicks: satLamKdeTicks, kdeFmt: fmt(0), trDomain: [-0.16, 10.75], trTicks: satLamTraceTicks, trFmt: fmt(0) },
  { title: 'adstock_alpha', series: [
      { color: BLUE, kdeX: adstockBlueKdeX, kde: adstockBlueKde, trace: adstockBlueTrace, unit: 0.01 },
      { color: ORANGE, kdeX: adstockOrangeKdeX, kde: adstockOrangeKde, trace: adstockOrangeTrace, unit: 0.01 }],
    kdeDomain: [0.0307, 0.5645], kdeTicks: adstockKdeTicks, kdeFmt: fmt(1), trDomain: [0.041, 0.56], trTicks: adstockTraceTicks, trFmt: fmt(1) },
  { title: 'gamma_control', series: [
      { color: BLUE, kdeX: gcBlueKdeX, kde: gcBlueKde, trace: gcBlueTrace, unit: 0.01 },
      { color: ORANGE, kdeX: gcOrangeKdeX, kde: gcOrangeKde, trace: gcOrangeTrace, unit: 0.01 },
      { color: GREEN, kdeX: gcGreenKdeX, kde: gcGreenKde, trace: gcGreenTrace, unit: 0.01 }],
    kdeDomain: [-0.01617, 0.3432], kdeTicks: gcKdeTicks, kdeFmt: fmt(2), trDomain: [-0.0155, 0.350], trTicks: gcTraceTicks, trFmt: fmt(1) },
  { title: 'gamma_fourier', series: [
      { color: BLUE, kdeX: gfBlueKdeX, kde: gfBlueKde, trace: gfBlueTrace, unit: 0.001 },
      { color: ORANGE, kdeX: gfOrangeKdeX, kde: gfOrangeKde, trace: gfOrangeTrace, unit: 0.001 },
      { color: GREEN, kdeX: gfGreenKdeX, kde: gfGreenKde, trace: gfGreenTrace, unit: 0.001 },
      { color: MAGENTA, kdeX: gfMagentaKdeX, kde: gfMagentaKde, trace: gfMagentaTrace, unit: 0.001 }],
    kdeDomain: [-0.07816, 0.08108], kdeTicks: gfKdeTicks, kdeFmt: fmt(2), trDomain: [-0.0782, 0.0809], trTicks: gfTraceTicks, trFmt: fmt(2) },
];

// ---------------- layout ----------------
const W = 2423, H = 2023;
const LEFT_X = 20, LEFT_W = 1120;
const RIGHT_X = 1284, RIGHT_W = 1119;
const ROW0 = 120, ROW_PITCH = 277.17, PANEL_H = 182;
const X_AXIS_H = 60, Y_AXIS_W = 110, LEFT_EXTRA = 80, TOP_PAD = 24;
const TICK_FONT = 26.5, TITLE_FONT = 31, SUPTITLE_FONT = 43;

const KDE_DASH = [undefined, '9.6 4.2', '2.6 4.3', '16.6 4.2 2.6 4.2'];
const TRACE_DASH = [undefined, '8 3', '2.6 2.6', '13 3 2.6 3'];

const tickStyle = { fontSize: TICK_FONT, fill: TEXT, fontFamily: FONT };

function kdeChainData(xs: number[], ys: (number | null)[]) {
  const out: { x: number; y: number }[] = [];
  xs.forEach((x, j) => { const y = ys[j]; if (y !== null && y !== undefined) out.push({ x, y }); });
  return out;
}

function traceTable(p: Panel) {
  const rows: Record<string, number | null>[] = [];
  for (let i = 0; i < TRACE_DRAWS; i++) {
    const row: Record<string, number | null> = { draw: i * DRAW_STEP };
    p.series.forEach((s, si) => s.trace.forEach((c, ci) => {
      const v = c[i];
      row[`s${si}c${ci}`] = v === undefined ? null : v * s.unit;
    }));
    rows.push(row);
  }
  return rows;
}

function KdePanel({ p }: { p: Panel }) {
  return (
    <LineChart width={LEFT_W + LEFT_EXTRA} height={PANEL_H + X_AXIS_H + TOP_PAD} margin={{ top: TOP_PAD, right: LEFT_EXTRA, bottom: 0, left: 0 }}>
      <CartesianGrid horizontal={false} stroke="#ffffff" strokeWidth={1.6} fill={PANEL_BG} fillOpacity={1} />
      <XAxis type="number" dataKey="x" domain={p.kdeDomain} ticks={p.kdeTicks} tickFormatter={p.kdeFmt} allowDataOverflow
        axisLine={false} tickLine={false} tickSize={0} tickMargin={13.5} interval={0} height={X_AXIS_H} tick={tickStyle} />
      <YAxis hide type="number" domain={[-5, 105]} allowDataOverflow />
      {p.series.map((s, si) => s.kde.map((ch, ci) => (
        <Line key={`k${si}-${ci}`} data={kdeChainData(s.kdeX, ch)} dataKey="y" type="monotone" stroke={s.color}
          strokeWidth={2.6} strokeDasharray={KDE_DASH[ci]} dot={false} activeDot={false} isAnimationActive={false} />
      )))}
    </LineChart>
  );
}

function TracePanel({ p }: { p: Panel }) {
  const data = traceTable(p);
  return (
    <LineChart data={data} width={Y_AXIS_W + RIGHT_W + 20} height={PANEL_H + X_AXIS_H + TOP_PAD} margin={{ top: TOP_PAD, right: 20, bottom: 0, left: 0 }}>
      <CartesianGrid stroke="#ffffff" strokeWidth={1.8} fill={PANEL_BG} fillOpacity={1} />
      <XAxis type="number" dataKey="draw" domain={[0, 999]} ticks={drawTicks} tickFormatter={fmt(0)} allowDataOverflow
        axisLine={false} tickLine={false} tickSize={0} tickMargin={13.5} interval={0} height={X_AXIS_H} tick={tickStyle} />
      <YAxis type="number" domain={p.trDomain} ticks={p.trTicks} tickFormatter={p.trFmt} allowDataOverflow
        axisLine={false} tickLine={false} tickSize={0} tickMargin={12} interval={0} width={Y_AXIS_W} tick={tickStyle} />
      {p.series.map((s, si) => s.trace.map((_, ci) => (
        <Line key={`t${si}-${ci}`} dataKey={`s${si}c${ci}`} type="linear" stroke={s.color} strokeOpacity={0.55}
          strokeWidth={3.2} strokeDasharray={TRACE_DASH[ci]} dot={false} activeDot={false} isAnimationActive={false} />
      )))}
    </LineChart>
  );
}

export default function App() {
  return (
    <div style={{ position: 'absolute', left: 0, top: 0, width: W, height: H, background: '#ffffff', fontFamily: FONT, color: TEXT, overflow: 'hidden' }}>
      <div style={{ position: 'absolute', left: 0, top: 17, width: W, textAlign: 'center', fontSize: SUPTITLE_FONT, lineHeight: `${SUPTITLE_FONT}px` }}>Model Trace</div>
      {panels.map((p, i) => {
        const top = ROW0 + ROW_PITCH * i;
        return (
          <React.Fragment key={p.title}>
            <div style={{ position: 'absolute', left: LEFT_X, top: top - TOP_PAD }}><KdePanel p={p} /></div>
            <div style={{ position: 'absolute', left: RIGHT_X - Y_AXIS_W, top: top - TOP_PAD }}><TracePanel p={p} /></div>
            <div style={{ position: 'absolute', left: LEFT_X, top: top - 43, width: LEFT_W, textAlign: 'center', fontSize: TITLE_FONT, lineHeight: `${TITLE_FONT}px` }}>{p.title}</div>
            <div style={{ position: 'absolute', left: RIGHT_X, top: top - 43, width: RIGHT_W, textAlign: 'center', fontSize: TITLE_FONT, lineHeight: `${TITLE_FONT}px` }}>{p.title}</div>
          </React.Fragment>
        );
      })}
    </div>
  );
}
